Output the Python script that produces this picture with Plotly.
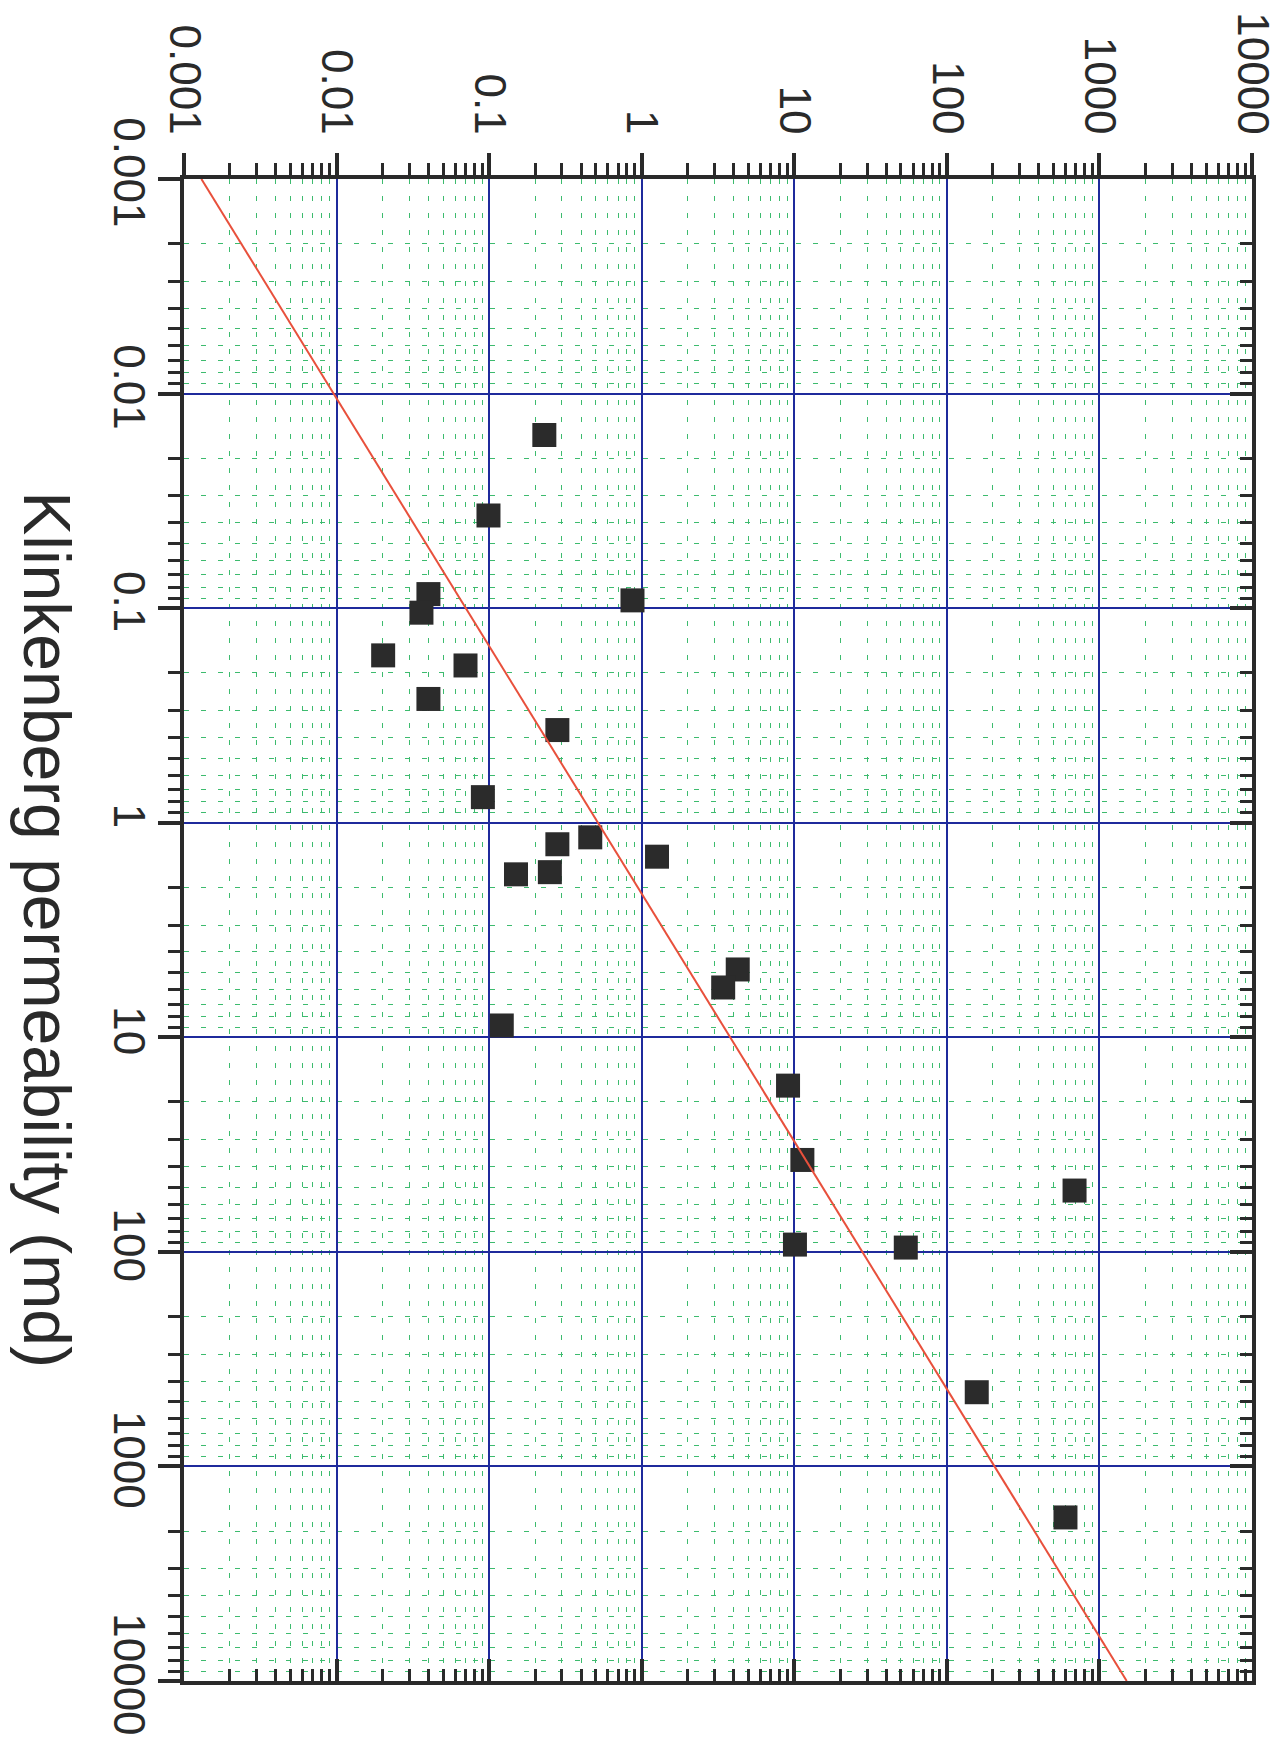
import plotly.graph_objects as go

# Data (horizontal value, Klinkenberg permeability in md)
k_horizontal = [0.23, 0.099, 0.040, 0.036, 0.87, 0.0202, 0.070, 0.040, 0.28, 0.091,
                0.46, 0.28, 1.26, 0.150, 0.25, 4.26, 3.42, 0.121, 9.1, 11.3,
                687, 10.1, 53.8, 157, 599]
k_klinkenberg = [0.0156, 0.037, 0.086, 0.105, 0.092, 0.166, 0.185, 0.265, 0.37, 0.76,
                 1.17, 1.26, 1.44, 1.74, 1.70, 4.83, 5.86, 8.81, 16.8, 37.3,
                 51.8, 92.5, 95.5, 451, 1729]

# Trend line end points
line_horizontal = [0.0013, 1510]
line_klinkenberg = [0.001, 10000]

tick_vals = [0.001, 0.01, 0.1, 1, 10, 100, 1000, 10000]
tick_text = ["0.001", "0.01", "0.1", "1", "10", "100", "1000", "10000"]

axis_title = "Klinkenberg permeability (md)"

FONT = "Liberation Sans, Arial, sans-serif"
INK = "#2a2a2a"
MAJOR_GRID = "#1f2a9c"
MINOR_GRID = "#3dbb6e"

fig = go.Figure()

fig.add_trace(go.Scatter(
    x=k_horizontal, y=k_klinkenberg, mode="markers",
    marker=dict(symbol="square", size=24, color="#2b2b2b", line=dict(width=0)),
    showlegend=False, hoverinfo="skip"))

fig.add_trace(go.Scatter(
    x=line_horizontal, y=line_klinkenberg, mode="lines",
    line=dict(color="#e8503c", width=2),
    showlegend=False, hoverinfo="skip"))

# invisible trace to activate the mirrored axes (bottom / right)
fig.add_trace(go.Scatter(x=[1], y=[1], xaxis="x2", yaxis="y2", mode="markers",
                         marker=dict(opacity=0), showlegend=False, hoverinfo="skip"))

common_major = dict(
    type="log", showline=True, linewidth=4, linecolor=INK,
    tickmode="array", tickvals=tick_vals, ticktext=tick_text,
    ticklen=22, tickwidth=3.5, tickcolor=INK,
    zeroline=False, automargin=False,
)

fig.update_layout(
    width=1288, height=1753,
    margin=dict(l=176, r=44, t=171, b=80),
    paper_bgcolor="white", plot_bgcolor="white",
    font=dict(family=FONT, color=INK),
    xaxis=dict(
        **common_major, range=[-3, 4], side="top", ticks="outside",
        tickangle=90, tickfont=dict(size=44, family=FONT, color=INK),
        showgrid=True, gridcolor=MAJOR_GRID, gridwidth=2,
        ticklabelstandoff=3,
        minor=dict(dtick="D1", ticks="outside", ticklen=12, tickwidth=3, tickcolor=INK,
                   showgrid=True, gridcolor=MINOR_GRID, gridwidth=1.3, griddash="5px,12px"),
    ),
    yaxis=dict(
        **common_major, range=[4, -3], side="left", ticks="outside",
        tickangle=90, tickfont=dict(size=44, family=FONT, color=INK),
        showgrid=True, gridcolor=MAJOR_GRID, gridwidth=2,
        ticklabelstandoff=-9,
        minor=dict(dtick="D1", ticks="outside", ticklen=12, tickwidth=3, tickcolor=INK,
                   showgrid=True, gridcolor=MINOR_GRID, gridwidth=1.3, griddash="5px,12px"),
    ),
    xaxis2=dict(
        **common_major, range=[-3, 4], overlaying="x", side="bottom", anchor="y",
        ticks="inside", showticklabels=False, showgrid=False,
        minor=dict(dtick="D1", ticks="inside", ticklen=12, tickwidth=3, tickcolor=INK,
                   showgrid=False),
    ),
    yaxis2=dict(
        **common_major, range=[4, -3], overlaying="y", side="right", anchor="x",
        ticks="inside", showticklabels=False, showgrid=False,
        minor=dict(dtick="D1", ticks="inside", ticklen=12, tickwidth=3, tickcolor=INK,
                   showgrid=False),
    ),
)

fig.add_annotation(
    text=axis_title, xref="paper", yref="paper",
    x=-0.1285, y=0.5, xanchor="center", yanchor="middle",
    textangle=90, showarrow=False, borderpad=0,
    font=dict(size=66, family=FONT, color=INK))

fig.write_html("out.html")
